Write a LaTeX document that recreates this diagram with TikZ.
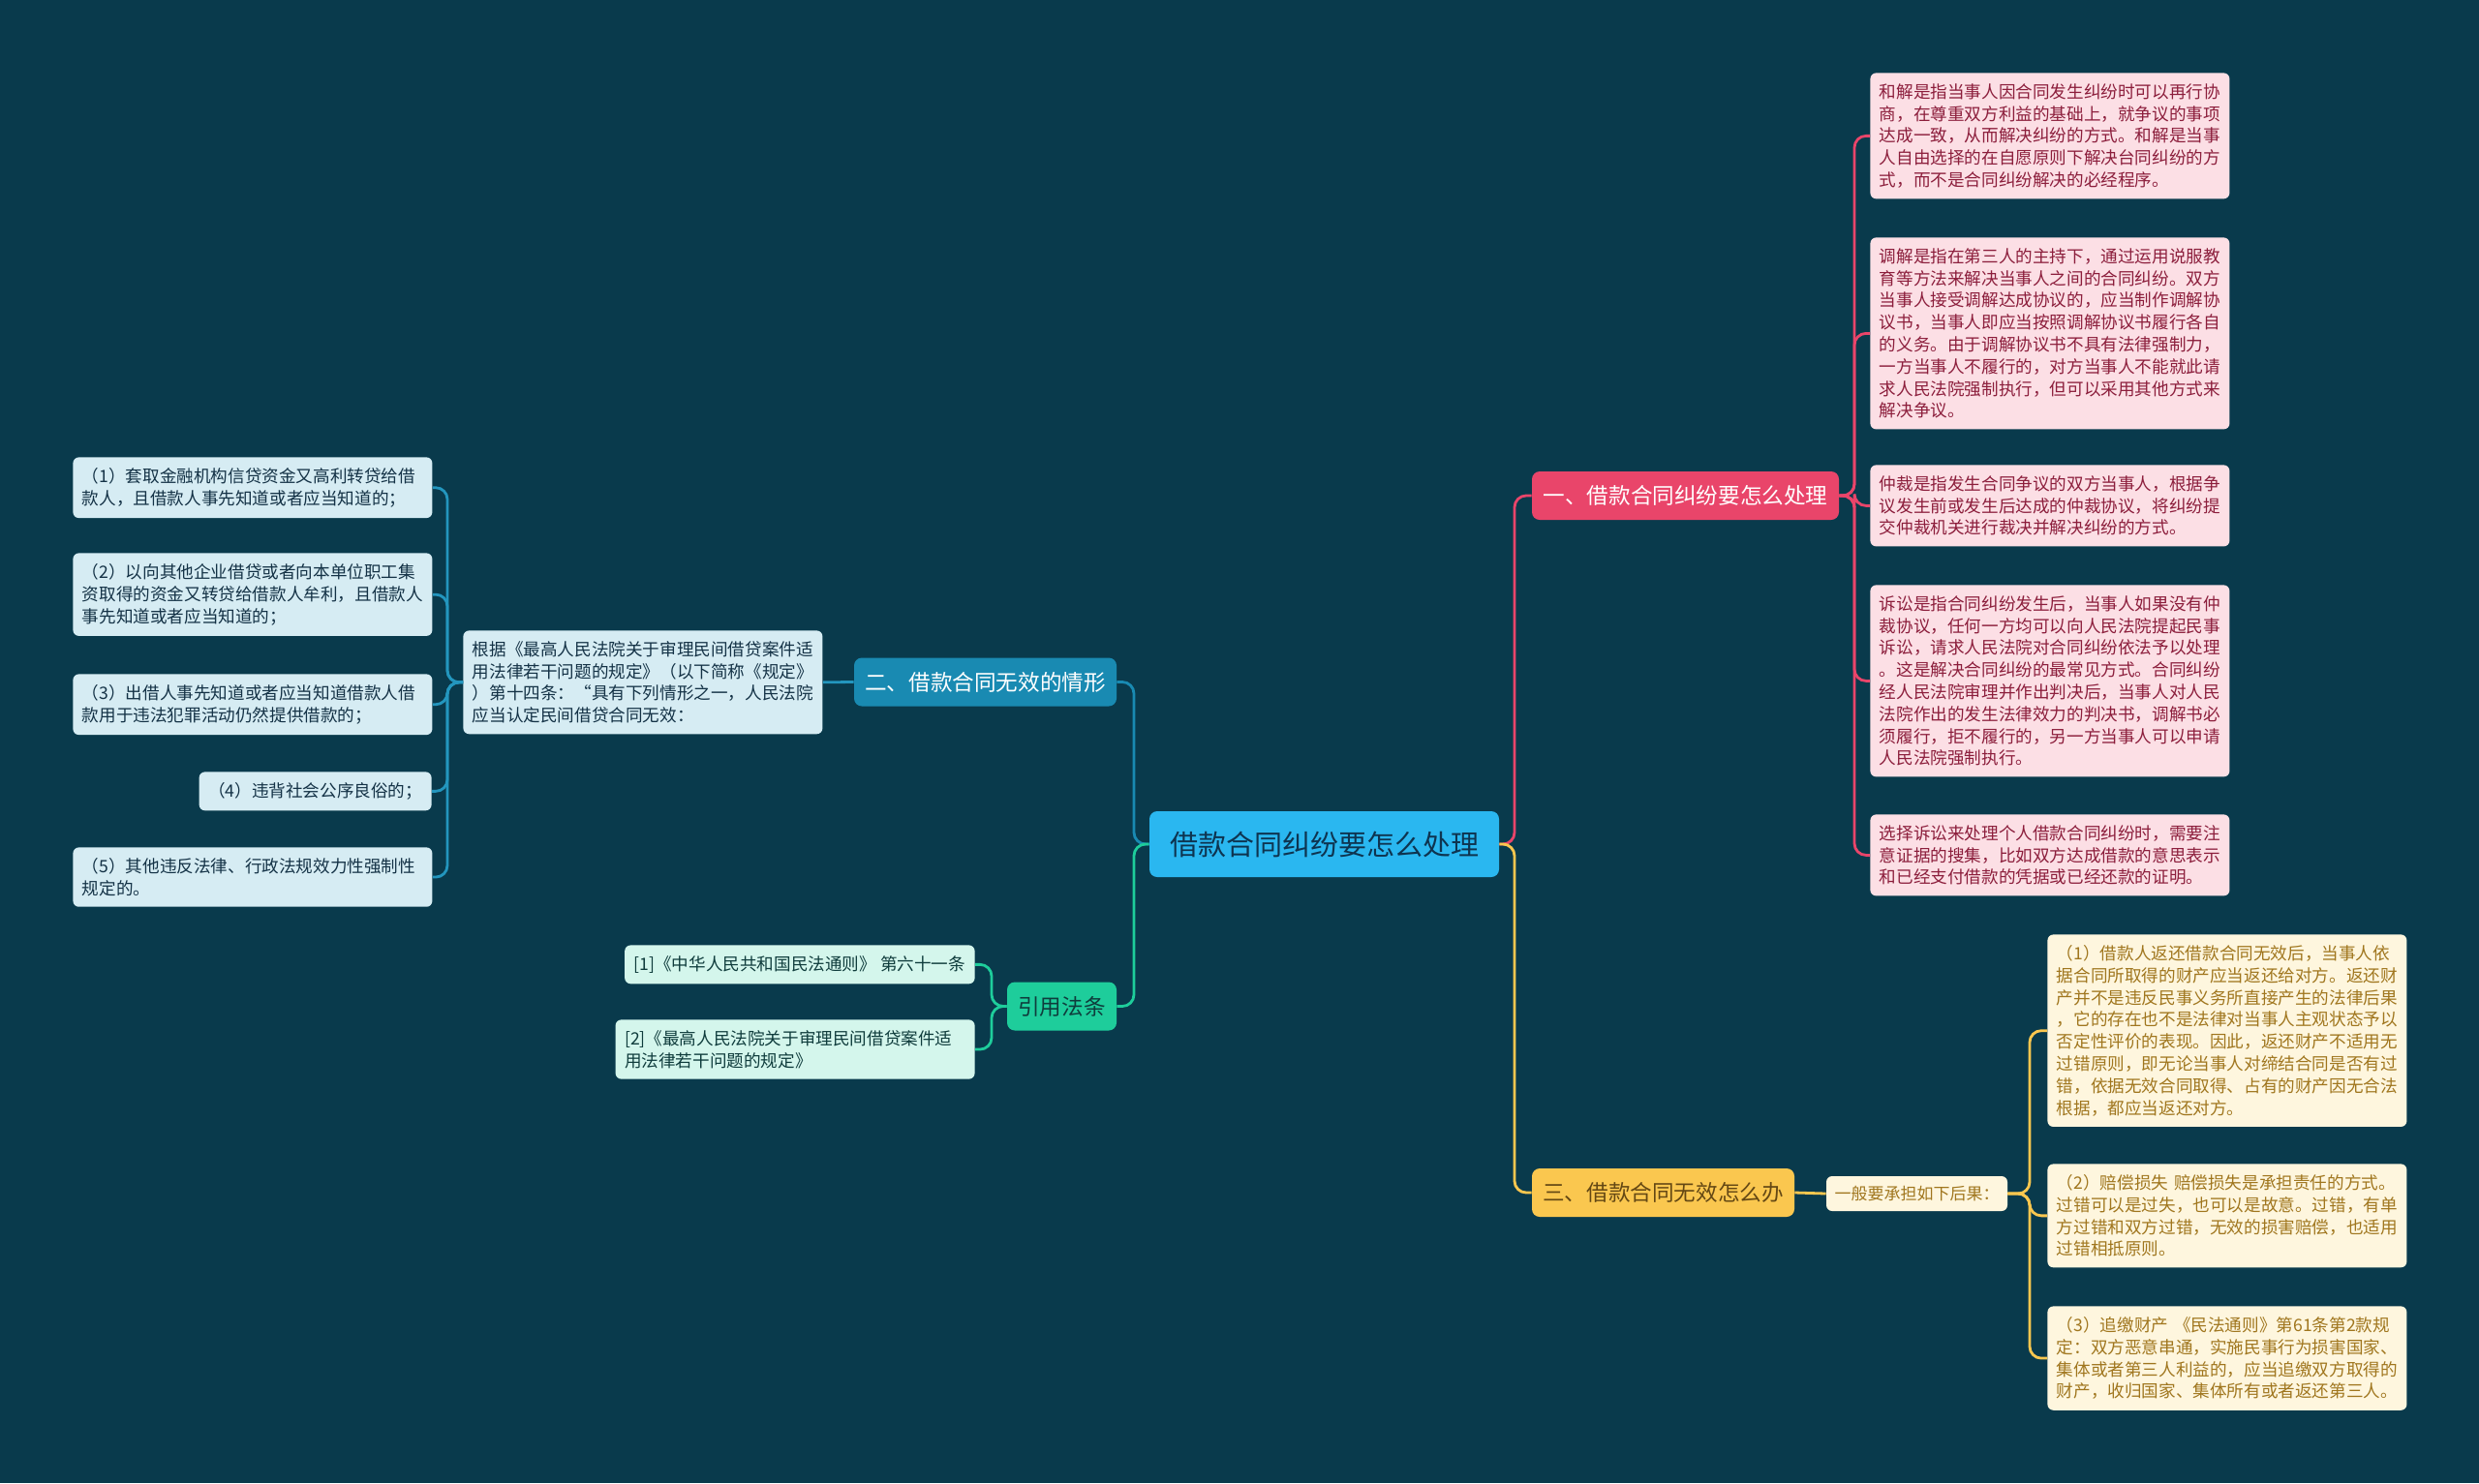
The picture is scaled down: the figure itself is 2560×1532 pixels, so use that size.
\documentclass[tikz,border=0pt]{standalone}
\usepackage{fontspec}
\setmainfont{Noto Sans CJK SC}
\newcommand\leaffont{\fontsize{8.8pt}{11.4pt}\selectfont}
\definecolor{bgC}{RGB}{9,58,76}
\definecolor{centerF}{RGB}{42,183,240}
\definecolor{centerT}{RGB}{14,52,80}
\definecolor{pinkB}{RGB}{233,69,106}
\definecolor{pinkL}{RGB}{252,223,229}
\definecolor{pinkT}{RGB}{140,30,60}
\definecolor{blueB}{RGB}{25,138,178}
\definecolor{blueLn}{RGB}{35,150,190}
\definecolor{blueL}{RGB}{214,236,243}
\definecolor{blueT}{RGB}{20,50,70}
\definecolor{yellowB}{RGB}{250,199,79}
\definecolor{yellowL}{RGB}{254,246,222}
\definecolor{yellowT}{RGB}{160,118,30}
\definecolor{yellowBT}{RGB}{100,72,20}
\definecolor{greenB}{RGB}{30,205,155}
\definecolor{greenL}{RGB}{212,246,236}
\definecolor{greenT}{RGB}{15,60,60}
\begin{document}
\begin{tikzpicture}[x=0.5pt,y=-0.5pt,
  every node/.style={inner sep=0pt},
  leaf/.style={rounded corners=3pt, text width=176pt, align=left, inner xsep=4.75pt, inner ysep=5.5pt, font=\leaffont},
  shortleaf/.style={rounded corners=3pt, align=left, inner xsep=4.75pt, inner ysep=5.5pt, font=\leaffont},
  pinkleaf/.style={leaf, fill=pinkL, text=pinkT},
  yellowleaf/.style={leaf, fill=yellowL, text=yellowT},
  blueleaf/.style={leaf, fill=blueL, text=blueT},
  greenleaf/.style={leaf, fill=greenL, text=greenT},
  branch/.style={rounded corners=4pt, minimum height=25pt, font=\fontsize{11.3pt}{13pt}\selectfont},
  centernode/.style={rounded corners=4pt, fill=centerF, text=centerT, minimum width=180.5pt, minimum height=34pt, font=\fontsize{14.5pt}{16pt}\selectfont},
  conn/.style={line width=1.4pt, rounded corners=6pt},
]
\fill[bgC] (0,0) rectangle (2560,1532);
\useasboundingbox (0,0) rectangle (2560,1532);

% spine coordinates
\coordinate (cl) at (1171,0);
\coordinate (cr) at (1564,0);
\coordinate (sp) at (1915,0);
\coordinate (sy) at (2096,0);
\coordinate (sl) at (462,0);
\coordinate (sg) at (1024,0);

% center and branches
\node[centernode] (c) at (1367.5,872) {借款合同纠纷要怎么处理};
\node[branch, fill=pinkB, text=white, minimum width=158.5pt] (b1) at (1740.5,512) {一、借款合同纠纷要怎么处理};
\node[branch, fill=blueB, text=white, minimum width=135.5pt] (b2) at (1017.5,704.5) {二、借款合同无效的情形};
\node[branch, fill=yellowB, text=yellowBT, minimum width=135.5pt] (b3) at (1717.5,1232) {三、借款合同无效怎么办};
\node[branch, fill=greenB, text=greenT, minimum width=56.5pt] (b4) at (1096.5,1039.5) {引用法条};

% pink leaves
\node[pinkleaf, anchor=north west] (p1) at (1931,75) {和解是指当事人因合同发生纠纷时可以再行协\\商，在尊重双方利益的基础上，就争议的事项\\达成一致，从而解决纠纷的方式。和解是当事\\人自由选择的在自愿原则下解决台同纠纷的方\\式，而不是合同纠纷解决的必经程序。};
\node[pinkleaf, anchor=north west] (p2) at (1931,245) {调解是指在第三人的主持下，通过运用说服教\\育等方法来解决当事人之间的合同纠纷。双方\\当事人接受调解达成协议的，应当制作调解协\\议书，当事人即应当按照调解协议书履行各自\\的义务。由于调解协议书不具有法律强制力，\\一方当事人不履行的，对方当事人不能就此请\\求人民法院强制执行，但可以采用其他方式来\\解决争议。};
\node[pinkleaf, anchor=north west] (p3) at (1931,480) {仲裁是指发生合同争议的双方当事人，根据争\\议发生前或发生后达成的仲裁协议，将纠纷提\\交仲裁机关进行裁决并解决纠纷的方式。};
\node[pinkleaf, anchor=north west] (p4) at (1931,604) {诉讼是指合同纠纷发生后，当事人如果没有仲\\裁协议，任何一方均可以向人民法院提起民事\\诉讼，请求人民法院对合同纠纷依法予以处理\\。这是解决合同纠纷的最常见方式。合同纠纷\\经人民法院审理并作出判决后，当事人对人民\\法院作出的发生法律效力的判决书，调解书必\\须履行，拒不履行的，另一方当事人可以申请\\人民法院强制执行。};
\node[pinkleaf, anchor=north west] (p5) at (1931,841) {选择诉讼来处理个人借款合同纠纷时，需要注\\意证据的搜集，比如双方达成借款的意思表示\\和已经支付借款的凭据或已经还款的证明。};

% yellow
\node[rounded corners=3pt, fill=yellowL, text=yellowT, minimum width=93.5pt, minimum height=18pt, font=\fontsize{8.5pt}{10pt}\selectfont] (m3) at (1979.5,1233) {一般要承担如下后果：};
\node[yellowleaf, anchor=north west] (y1) at (2114,965) {（1）借款人返还借款合同无效后，当事人依\\据合同所取得的财产应当返还给对方。返还财\\产并不是违反民事义务所直接产生的法律后果\\，它的存在也不是法律对当事人主观状态予以\\否定性评价的表现。因此，返还财产不适用无\\过错原则，即无论当事人对缔结合同是否有过\\错，依据无效合同取得、占有的财产因无合法\\根据，都应当返还对方。};
\node[yellowleaf, anchor=north west] (y2) at (2114,1202) {（2）赔偿损失 赔偿损失是承担责任的方式。\\过错可以是过失，也可以是故意。过错，有单\\方过错和双方过错，无效的损害赔偿，也适用\\过错相抵原则。};
\node[yellowleaf, anchor=north west] (y3) at (2114,1349) {（3）追缴财产 《民法通则》第61条第2款规\\定：双方恶意串通，实施民事行为损害国家、\\集体或者第三人利益的，应当追缴双方取得的\\财产，收归国家、集体所有或者返还第三人。};

% blue
\node[blueleaf, anchor=north west] (m2) at (478,651) {根据《最高人民法院关于审理民间借贷案件适\\用法律若干问题的规定》（以下简称《规定》\\）第十四条：“具有下列情形之一，人民法院\\应当认定民间借贷合同无效：};
\node[blueleaf, anchor=north west] (l1) at (75,472) {（1）套取金融机构信贷资金又高利转贷给借\\款人，且借款人事先知道或者应当知道的；};
\node[blueleaf, anchor=north west] (l2) at (75,571) {（2）以向其他企业借贷或者向本单位职工集\\资取得的资金又转贷给借款人牟利，且借款人\\事先知道或者应当知道的；};
\node[blueleaf, anchor=north west] (l3) at (75,696) {（3）出借人事先知道或者应当知道借款人借\\款用于违法犯罪活动仍然提供借款的；};
\node[shortleaf, fill=blueL, text=blueT, anchor=north east] (l4) at (446,797) {（4）违背社会公序良俗的；};
\node[blueleaf, anchor=north west] (l5) at (75,875) {（5）其他违反法律、行政法规效力性强制性\\规定的。};

% green
\node[shortleaf, fill=greenL, text=greenT, anchor=north east] (g1) at (1007,976) {[1]《中华人民共和国民法通则》 第六十一条};
\node[greenleaf, anchor=north east] (g2) at (1007,1053) {[2]《最高人民法院关于审理民间借贷案件适\\用法律若干问题的规定》};

% connectors from center
\draw[conn, blueB] (c.west) -- (c.west -| cl) |- (b2.east);
\draw[conn, greenB] (c.west) -- (c.west -| cl) |- (b4.east);
\draw[conn, pinkB] (c.east) -- (c.east -| cr) |- (b1.west);
\draw[conn, yellowB] (c.east) -- (c.east -| cr) |- (b3.west);

% pink
\foreach \n in {p1,p2,p3,p4,p5}
  \draw[conn, pinkB] (b1.east) -- (b1.east -| sp) |- (\n.west);
% yellow
\draw[conn, yellowB] (b3.east) -- (m3.west);
\foreach \n in {y1,y2,y3}
  \draw[conn, yellowB] (m3.east) -- (m3.east -| sy) |- (\n.west);
% blue
\draw[conn, blueLn] (b2.west) -- (m2.east);
\foreach \n in {l1,l2,l3,l4,l5}
  \draw[conn, blueLn] (m2.west) -- (m2.west -| sl) |- (\n.east);
% green
\foreach \n in {g1,g2}
  \draw[conn, greenB] (b4.west) -- (b4.west -| sg) |- (\n.east);
\end{tikzpicture}
\end{document}
